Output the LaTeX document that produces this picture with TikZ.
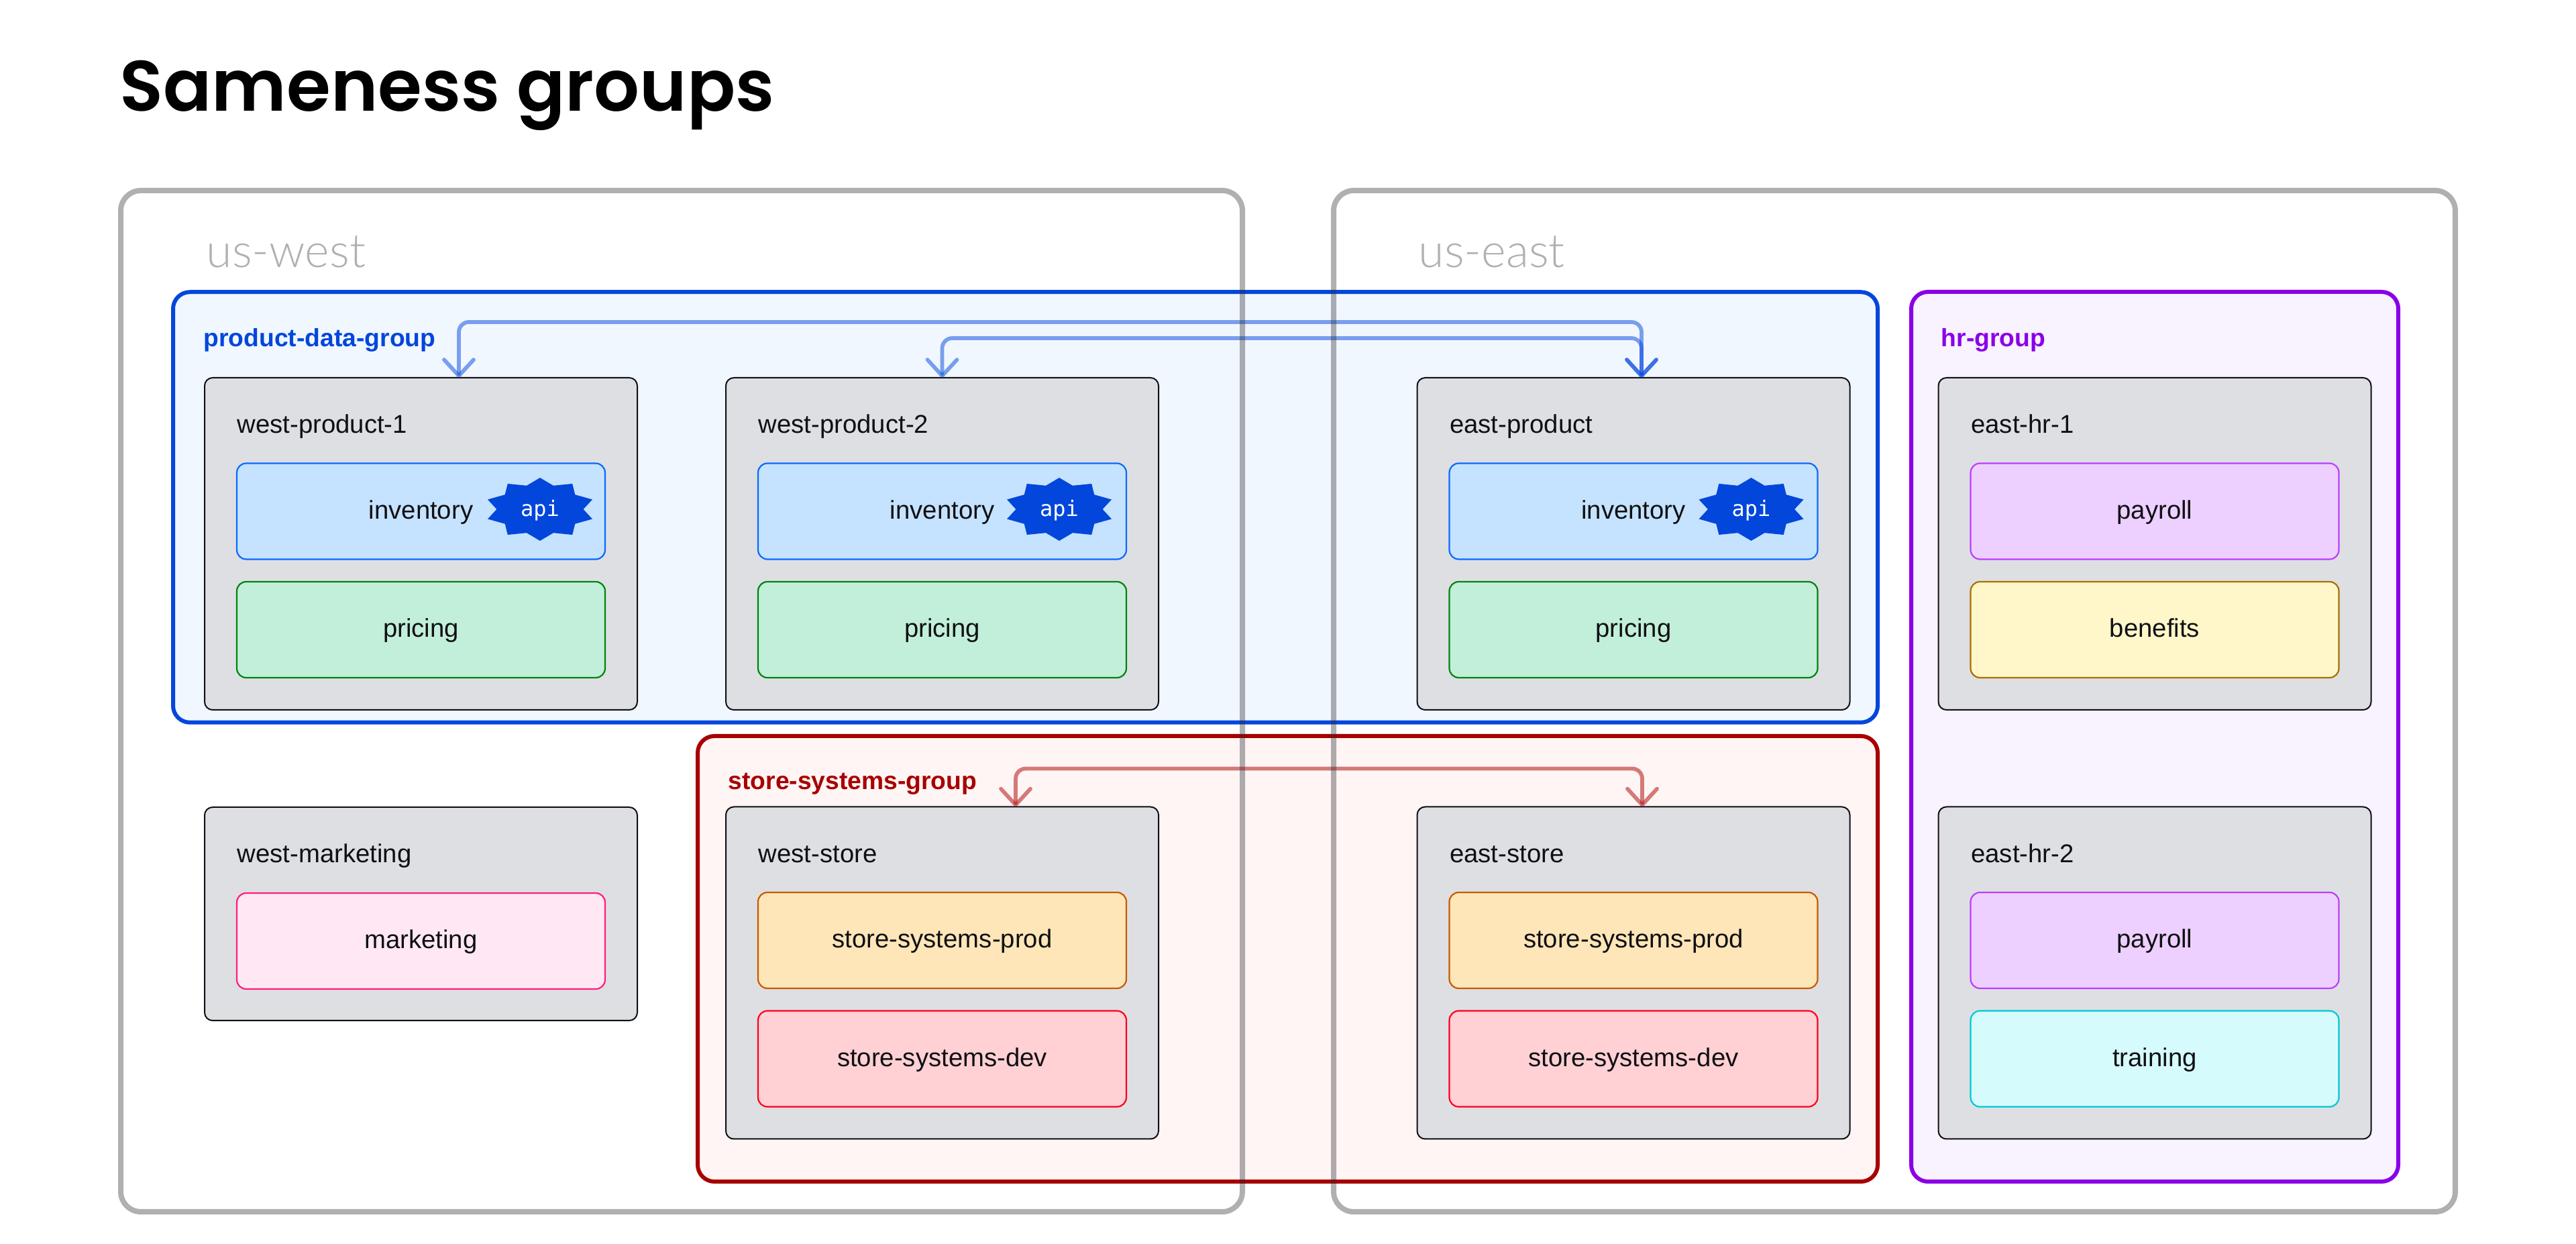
\documentclass[tikz,border=0pt]{standalone}
\usepackage{fontspec}
\setmainfont{Liberation Sans}
\newfontfamily\titlefont{Poppins SemiBold}
\newfontfamily\lightfont{Lato Light}
\newfontfamily\apifont{DejaVu Sans Mono}
\usepackage{xcolor}
\usetikzlibrary{shapes.geometric, arrows.meta}
\definecolor{framegray}{HTML}{2F2F37}
\definecolor{prodblue}{HTML}{0346DC}
\definecolor{storered}{HTML}{A80000}
\definecolor{hrpurple}{HTML}{8A00E6}
\definecolor{clusterfill}{HTML}{DEDFE3}
\definecolor{clusterline}{HTML}{101014}
\tikzstyle{frame} = [rectangle, draw=framegray, draw opacity=0.38, line width=0.08cm, rounded corners=0.3cm, minimum width=16.72cm, minimum height=15.22cm, outer sep=0pt]
\tikzstyle{group} = [rectangle, line width=0.06cm, rounded corners=0.25cm, outer sep=0pt]
\tikzstyle{grouptitle} = [anchor=base west, inner sep=0pt, font=\fontsize{10.6}{12}\selectfont\bfseries]
\tikzstyle{cluster} = [rectangle, fill=clusterfill, draw=clusterline, line width=0.02cm, rounded corners=0.12cm, minimum width=6.45cm, minimum height=4.95cm, outer sep=0pt]
\tikzstyle{clustertitle} = [anchor=base west, inner sep=0pt, font=\fontsize{10.9}{12}\selectfont, text=clusterline]
\tikzstyle{service} = [rectangle, line width=0.022cm, rounded corners=0.14cm, minimum width=5.49cm, minimum height=1.43cm, outer sep=0pt, inner sep=0pt, text height=0.31cm, text depth=0.08cm, font=\fontsize{10.9}{12}\selectfont, text=clusterline]
\tikzstyle{apistar} = [star, star points=10, star point ratio=1.27, minimum size=0.94cm, inner sep=0pt, fill=prodblue, xscale=1.745, transform shape]
\tikzstyle{apitext} = [inner sep=0pt, yshift=-0.02cm, text=white, font=\apifont\fontsize{9.1}{10}\selectfont]
\tikzstyle{link} = [line width=0.058cm, rounded corners=0.15cm, line cap=round, opacity=0.5, {Straight Barb[length=0.24cm,width=0.44cm,round]}-{Straight Barb[length=0.24cm,width=0.44cm,round]}]
\tikzstyle{inventorybox} = [service, fill={rgb,255:red,197;green,227;blue,254}, draw={rgb,255:red,10;green,106;blue,255}]
\tikzstyle{pricingbox} = [service, fill={rgb,255:red,194;green,239;blue,217}, draw={rgb,255:red,0;green,132;blue,15}]
\tikzstyle{payrollbox} = [service, fill={rgb,255:red,237;green,208;blue,255}, draw={rgb,255:red,189;green,61;blue,255}]
\tikzstyle{benefitsbox} = [service, fill={rgb,255:red,255;green,247;blue,201}, draw={rgb,255:red,168;green,112;blue,0}]
\tikzstyle{trainingbox} = [service, fill={rgb,255:red,214;green,251;blue,253}, draw={rgb,255:red,0;green,200;blue,212}]
\tikzstyle{marketingbox} = [service, fill={rgb,255:red,255;green,232;blue,243}, draw={rgb,255:red,255;green,30;blue,125}]
\tikzstyle{prodbox} = [service, fill={rgb,255:red,254;green,230;blue,184}, draw={rgb,255:red,200;green,90;blue,0}]
\tikzstyle{devbox} = [service, fill={rgb,255:red,255;green,209;blue,212}, draw={rgb,255:red,255;green,0;blue,30}]

\begin{document}
\begin{tikzpicture}[node distance=7.77cm]
  \useasboundingbox (0,0) rectangle (38.4,18.54);

  % Title
  \node (title) [anchor=base west, inner sep=0pt, font=\titlefont\fontsize{30.3}{34}\selectfont] at (1.78,16.88) {Sameness groups};

  % Groups
  \node (productgroup) [group, draw=prodblue, fill={rgb,255:red,240;green,247;blue,255}, minimum width=25.41cm, minimum height=6.415cm] at (15.285,10.98) {};
  \node (storegroup) [group, draw=storered, fill={rgb,255:red,255;green,245;blue,244}, minimum width=17.59cm, minimum height=6.64cm] at (19.195,4.25) {};
  \node (hrgroup) [group, draw=hrpurple, fill={rgb,255:red,249;green,242;blue,255}, minimum width=7.26cm, minimum height=13.26cm] at (32.12,7.56) {};
  \node (producttitle) [grouptitle, text=prodblue] at (3.03,13.37) {product-data-group};
  \node (storetitle) [grouptitle, text=storered] at (10.85,6.77) {store-systems-group};
  \node (hrtitle) [grouptitle, text=hrpurple] at (28.93,13.37) {hr-group};

  % Clusters
  \node (wp1) [cluster] at (6.275,10.435) {};
  \node (wp2) [cluster, right of=wp1] {};
  \node (ep) [cluster, right of=wp2, node distance=10.305cm] {};
  \node (eh1) [cluster, right of=ep] {};
  \node (wm) [cluster, minimum height=3.18cm, below of=wp1, node distance=5.515cm] {};
  \node (ws) [cluster, below of=wp2, node distance=6.395cm] {};
  \node (es) [cluster, below of=ep, node distance=6.395cm] {};
  \node (eh2) [cluster, below of=eh1, node distance=6.395cm] {};

  % Cluster titles
  \node (wp1title) [clustertitle] at ([xshift=0.48cm,yshift=-0.83cm]wp1.north west) {west-product-1};
  \node (wp2title) [clustertitle] at ([xshift=0.48cm,yshift=-0.83cm]wp2.north west) {west-product-2};
  \node (eptitle) [clustertitle] at ([xshift=0.48cm,yshift=-0.83cm]ep.north west) {east-product};
  \node (eh1title) [clustertitle] at ([xshift=0.48cm,yshift=-0.83cm]eh1.north west) {east-hr-1};
  \node (wmtitle) [clustertitle] at ([xshift=0.48cm,yshift=-0.83cm]wm.north west) {west-marketing};
  \node (wstitle) [clustertitle] at ([xshift=0.48cm,yshift=-0.83cm]ws.north west) {west-store};
  \node (estitle) [clustertitle] at ([xshift=0.48cm,yshift=-0.83cm]es.north west) {east-store};
  \node (eh2title) [clustertitle] at ([xshift=0.48cm,yshift=-0.83cm]eh2.north west) {east-hr-2};

  % Services
  \node (wp1inv) [inventorybox, above of=wp1, node distance=0.485cm] {inventory};
  \node (wp1price) [pricingbox, below of=wp1inv, node distance=1.765cm] {pricing};
  \node (wp2inv) [inventorybox, above of=wp2, node distance=0.485cm] {inventory};
  \node (wp2price) [pricingbox, below of=wp2inv, node distance=1.765cm] {pricing};
  \node (epinv) [inventorybox, above of=ep, node distance=0.485cm] {inventory};
  \node (epprice) [pricingbox, below of=epinv, node distance=1.765cm] {pricing};
  \node (eh1pay) [payrollbox, above of=eh1, node distance=0.485cm] {payroll};
  \node (eh1ben) [benefitsbox, below of=eh1pay, node distance=1.765cm] {benefits};
  \node (wmmark) [marketingbox, below of=wm, node distance=0.405cm] {marketing};
  \node (wsprod) [prodbox, above of=ws, node distance=0.485cm] {store-systems-prod};
  \node (wsdev) [devbox, below of=wsprod, node distance=1.765cm] {store-systems-dev};
  \node (esprod) [prodbox, above of=es, node distance=0.485cm] {store-systems-prod};
  \node (esdev) [devbox, below of=esprod, node distance=1.765cm] {store-systems-dev};
  \node (eh2pay) [payrollbox, above of=eh2, node distance=0.485cm] {payroll};
  \node (eh2train) [trainingbox, below of=eh2pay, node distance=1.765cm] {training};

  % Api badges
  \node (wp1api) [apistar] at ([xshift=-0.97cm,yshift=0.03cm]wp1inv.east) {};
  \node (wp2api) [apistar] at ([xshift=-1.00cm,yshift=0.03cm]wp2inv.east) {};
  \node (epapi) [apistar] at ([xshift=-0.99cm,yshift=0.03cm]epinv.east) {};
  \node (wp1apitext) [apitext] at (wp1api) {api};
  \node (wp2apitext) [apitext] at (wp2api) {api};
  \node (epapitext) [apitext] at (epapi) {api};

  % Arrows
  \draw [link, draw=prodblue] ([xshift=0.565cm]wp1.north) -- ++(0,0.83) -| ([xshift=0.12cm]ep.north);
  \draw [link, draw=prodblue] (wp2.north) -- ++(0,0.59) -| ([xshift=0.12cm]ep.north);
  \draw [link, draw=storered] ([xshift=1.095cm]ws.north) -- ++(0,0.57) -| ([xshift=0.13cm]es.north);

  % Frames
  \node (uswest) [frame] at (10.16,8.09) {};
  \node (useast) [frame] at (28.24,8.09) {};
  \node (uswesttitle) [anchor=base west, inner sep=0pt, text={rgb,255:red,176;green,176;blue,180}, font=\lightfont\fontsize{19.9}{22}\selectfont] at (3.07,14.55) {us-west};
  \node (useasttitle) [anchor=base west, inner sep=0pt, text={rgb,255:red,176;green,176;blue,180}, font=\lightfont\fontsize{19.9}{22}\selectfont] at (21.14,14.55) {us-east};

\end{tikzpicture}
\end{document}
